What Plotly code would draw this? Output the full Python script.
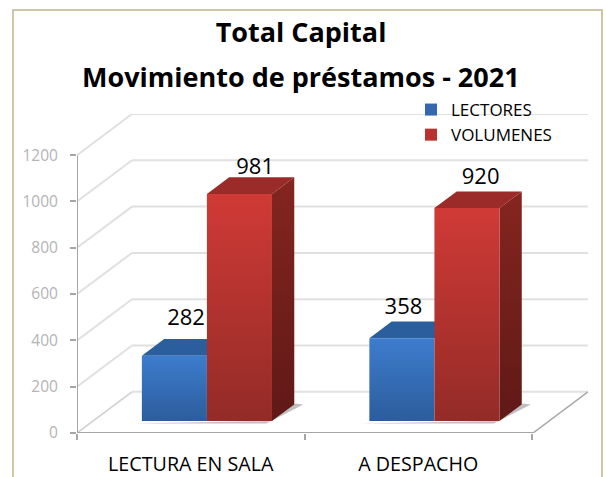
import plotly.graph_objects as go

title_line_1 = "<b>Total Capital</b>"
title_line_2 = "<b>Movimiento de préstamos - 2021</b>"
categories = ["LECTURA EN SALA", "A DESPACHO"]
lectores = [282, 358]
volumenes = [981, 920]
y_ticks = [0, 200, 400, 600, 800, 1000, 1200]

W, H = 606, 477
FONT = "Open Sans"
# projection of the box depth, in axis units
DX, DY = 55 / 227.5, 41 / (277 / 1200)
X_MAX = 511 / 227.5
Y_MAX = 1200 + DY
T0, T1 = 0.29, 0.695          # depth of bar front and back
GAP, BAR = 0.215, 0.286
# label placement relative to each bar: (x offset, lift) for [lectores, volumenes]
LABEL_OFFSETS = [[(0.0514, 155), (0.069, 109)], [(0.007, 130), (0.06, 126)]]


def pr(x, y, t=0.0):
    return x + t * DX, y + t * DY


def poly(pts):
    xs, ys = zip(*pts)
    return list(xs) + [xs[0]], list(ys) + [ys[0]]


def add_lines(segs, color, width):
    xs, ys = [], []
    for a, b in segs:
        xs += [a[0], b[0], None]
        ys += [a[1], b[1], None]
    fig.add_trace(go.Scatter(x=xs, y=ys, mode="lines", line=dict(color=color, width=width),
                             showlegend=False, hoverinfo="skip", cliponaxis=False))


def add_face(pts, color=None, grad=None):
    xs, ys = poly(pts)
    kw = dict(fillcolor=color) if grad is None else dict(
        fillgradient=dict(type="vertical", colorscale=[[0, grad[1]], [1, grad[0]]]))
    fig.add_trace(go.Scatter(x=xs, y=ys, mode="lines", fill="toself", line=dict(width=0),
                             showlegend=False, hoverinfo="skip", cliponaxis=False, **kw))


fig = go.Figure()

# walls and floor
grid = "#e0e0e0"
add_lines([(pr(0, v), pr(0, v, 1)) for v in y_ticks[1:]] +
          [(pr(0, v, 1), pr(X_MAX - DX, v, 1)) for v in y_ticks], grid, 2)
add_lines([(pr(0, 0), pr(0, 0, 1))], "#cfcfcf", 1.5)
add_lines([(pr(X_MAX - DX, 0), pr(X_MAX - DX, 0, 1))], "#a6a6a6", 1.5)

series = [
    (lectores, 0, ("#3d7ccd", "#2c5d9c"), "#2b5e9c", "#24507f"),
    (volumenes, 1, ("#d03a36", "#932b27"), "#9a2b28", ("#85251f", "#5f1917")),
]

for c in range(len(categories)):
    x0 = c + GAP
    # floor shadow
    xa, xb = x0, x0 + 2 * BAR
    add_face([pr(xa - 0.03, 0, T0 - 0.06), pr(xb - 0.01, 0, T0 - 0.06), pr(xb + 0.04, 0, T1),
              pr(xb, 0, T1 + 0.02), pr(xb, 0, T0)], color="rgba(140,140,140,0.55)")
    for vals, k, front, top, side in series:
        v = vals[c]
        a, b = x0 + k * BAR, x0 + (k + 1) * BAR
        add_face([pr(a, v, T0), pr(b, v, T0), pr(b, v, T1), pr(a, v, T1)], color=top)
        if isinstance(side, tuple):
            add_face([pr(b, 0, T0), pr(b, v, T0), pr(b, v, T1), pr(b, 0, T1)], grad=side)
        add_face([pr(a, 0, T0), pr(b, 0, T0), pr(b, v, T0), pr(a, v, T0)], grad=front)

# data labels
lx, ly, lt = [], [], []
for c in range(len(categories)):
    for k, vals in enumerate((lectores, volumenes)):
        dx, lift = LABEL_OFFSETS[c][k]
        lx.append(c + GAP + (k + 0.5) * BAR + dx + DX * T0)
        ly.append(vals[c] + DY * T0 + lift)
        lt.append(str(vals[c]))
fig.add_trace(go.Scatter(x=lx, y=ly, text=lt, mode="text", textposition="middle center",
                         textfont=dict(family=FONT, size=22, color="#000000"),
                         showlegend=False, hoverinfo="skip", cliponaxis=False))

# axis lines
add_lines([((0, 0), (0, 1200))], "#a6a6a6", 2)
add_lines([((0, 0), (X_MAX - DX, 0))], "#a6a6a6", 2)

# legend entries
for nm, col in [("LECTORES", "#3567ae"), ("VOLUMENES", "#b93230")]:
    fig.add_trace(go.Scatter(x=[None], y=[None], mode="markers", name=nm,
                             marker=dict(symbol="square", size=12, color=col)))

fig.update_layout(
    width=W, height=H, margin=dict(l=0, r=0, t=0, b=0),
    paper_bgcolor="white", plot_bgcolor="white",
    title=dict(text=title_line_1, x=301 / W, xanchor="center", y=1 - 33 / H, yanchor="middle",
               font=dict(family=FONT, size=27, color="#000000")),
    annotations=[dict(text=title_line_2, xref="paper", yref="paper", x=301 / W, y=1 - 76 / H,
                      xanchor="center", yanchor="middle", showarrow=False,
                      font=dict(family=FONT, size=27, color="#000000"))],
    legend=dict(x=411 / W, y=1 - 92 / H, xanchor="left", yanchor="top", bgcolor="rgba(0,0,0,0)",
                font=dict(family=FONT, size=17, color="#000000"), tracegroupgap=0),
    xaxis=dict(domain=[77 / W, 588 / W], range=[0, X_MAX], showgrid=False, zeroline=False, automargin=False,
               tickmode="array", tickvals=[0.5, 1.5], ticktext=categories, ticks="", ticklabelstandoff=17,
               tickfont=dict(family=FONT, size=19.7, color="#000000"),
               minor=dict(tickmode="array", tickvals=[0, 1, 2], ticks="outside", ticklen=6,
                          tickcolor="#a6a6a6", tickwidth=1.5, showgrid=False)),
    yaxis=dict(domain=[(H - 433) / H, (H - 114) / H], range=[0, Y_MAX], showgrid=False, zeroline=False,
               automargin=False,
               tickmode="array", tickvals=y_ticks, ticks="outside", ticklen=6, tickcolor="#a6a6a6",
               tickwidth=1.5, ticklabelstandoff=9,
               tickfont=dict(family=FONT, size=15.5, color="#b4b4b4")),
    shapes=[dict(type="rect", xref="paper", yref="paper", x0=13 / W, x1=602 / W, y0=-0.05, y1=1 - 10 / H,
                 line=dict(color="#bdb58c", width=1.5), fillcolor="rgba(0,0,0,0)", layer="below")],
)

fig.write_html("out.html", post_script="document.body.style.margin='0';document.body.style.overflow='hidden';",
               config=dict(displayModeBar=False))
